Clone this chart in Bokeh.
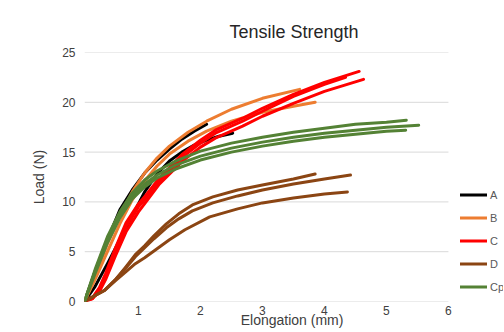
from bokeh.plotting import figure
from bokeh.models import Range1d, Legend, LegendItem, FixedTicker, Title
from bokeh.embed import file_html
from bokeh.resources import INLINE

# ---------------- data ----------------
x_ticks = [1, 2, 3, 4, 5, 6]
y_ticks = [0, 5, 10, 15, 20, 25]

A1_x = [0.13, 0.3, 0.5, 0.7, 0.9, 1.1, 1.3, 1.5, 1.7, 1.9, 2.1]
A1_y = [0, 3.0, 6.2, 9.2, 11.2, 12.9, 14.2, 15.3, 16.3, 17.1, 17.8]
A2_x = [0.13, 0.3, 0.5, 0.7, 0.9, 1.1, 1.3, 1.5, 1.7, 1.9, 2.1, 2.3, 2.52]
A2_y = [0, 1.5, 3.8, 6.2, 8.6, 11.0, 12.8, 14.1, 15.0, 15.7, 16.2, 16.6, 16.9]

B1_x = [0.13, 0.3, 0.5, 0.7, 0.9, 1.1, 1.3, 1.5, 1.8, 2.1, 2.5, 3.0, 3.5, 3.85]
B1_y = [0, 2.2, 5.0, 7.8, 10.2, 12.1, 13.6, 14.8, 16.1, 17.1, 18.1, 19.0, 19.6, 20.0]
B2_x = [0.13, 0.3, 0.5, 0.7, 0.9, 1.1, 1.3, 1.5, 1.8, 2.1, 2.5, 3.0, 3.6]
B2_y = [0, 2.6, 5.8, 8.6, 11.0, 12.9, 14.4, 15.6, 17.0, 18.1, 19.3, 20.4, 21.3]

C1_x = [0.13, 0.26, 0.37, 0.47, 0.63, 0.8, 1.0, 1.11, 1.34, 1.71, 2.0, 2.24, 2.68, 3.0, 3.5, 4.0, 4.56]
C1_y = [0, 0.4, 1.4, 2.8, 5.4, 7.9, 9.8, 10.6, 12.4, 14.8, 16.2, 17.2, 18.4, 19.4, 20.8, 22.0, 23.1]
C2_x = [0.13, 0.26, 0.37, 0.47, 0.63, 0.8, 1.0, 1.11, 1.34, 1.71, 2.0, 2.24, 2.68, 3.0, 3.5, 4.0, 4.34]
C2_y = [0, 0.3, 1.2, 2.5, 5.0, 7.5, 9.5, 10.3, 12.1, 14.5, 15.9, 16.9, 18.1, 19.1, 20.6, 21.8, 22.5]
C3_x = [0.13, 0.26, 0.37, 0.47, 0.63, 0.8, 1.0, 1.11, 1.34, 1.71, 2.0, 2.24, 2.68, 3.0, 3.5, 4.0, 4.63]
C3_y = [0, 0.3, 1.0, 2.2, 4.6, 7.0, 9.0, 9.9, 11.8, 14.1, 15.5, 16.4, 17.6, 18.6, 19.9, 21.1, 22.3]

D1_x = [0.13, 0.3, 0.45, 0.63, 0.8, 0.95, 1.1, 1.25, 1.45, 1.65, 1.87, 2.2, 2.6, 3.0, 3.5, 3.85]
D1_y = [0, 0.6, 1.1, 2.2, 3.5, 4.7, 5.6, 6.6, 7.8, 8.8, 9.7, 10.5, 11.2, 11.7, 12.3, 12.8]
D2_x = [0.13, 0.3, 0.45, 0.63, 0.8, 0.95, 1.1, 1.25, 1.45, 1.65, 1.87, 2.2, 2.6, 3.0, 3.5, 4.0, 4.42]
D2_y = [0, 0.6, 1.1, 2.2, 3.4, 4.5, 5.4, 6.3, 7.4, 8.3, 9.1, 9.9, 10.6, 11.2, 11.8, 12.3, 12.7]
D3_x = [0.13, 0.3, 0.45, 0.63, 0.8, 0.95, 1.1, 1.3, 1.5, 1.75, 2.15, 2.6, 3.0, 3.5, 4.0, 4.37]
D3_y = [0, 0.6, 1.1, 2.1, 3.0, 3.8, 4.4, 5.3, 6.2, 7.2, 8.5, 9.3, 9.9, 10.4, 10.8, 11.0]

Cp1_x = [0.13, 0.3, 0.5, 0.7, 0.9, 1.1, 1.3, 1.6, 2.0, 2.5, 3.0, 3.5, 4.0, 4.5, 5.0, 5.32]
Cp1_y = [0, 3.2, 6.5, 9.0, 10.9, 12.2, 13.1, 14.1, 15.1, 15.9, 16.5, 17.0, 17.4, 17.8, 18.0, 18.2]
Cp2_x = [0.13, 0.3, 0.5, 0.7, 0.9, 1.1, 1.3, 1.6, 2.0, 2.5, 3.0, 3.5, 4.0, 4.5, 5.0, 5.52]
Cp2_y = [0, 3.0, 6.2, 8.7, 10.6, 11.8, 12.7, 13.7, 14.6, 15.4, 16.0, 16.5, 16.9, 17.2, 17.5, 17.7]
Cp3_x = [0.13, 0.3, 0.5, 0.7, 0.9, 1.1, 1.3, 1.6, 2.0, 2.5, 3.0, 3.5, 4.0, 4.5, 5.0, 5.31]
Cp3_y = [0, 2.8, 5.9, 8.4, 10.3, 11.5, 12.4, 13.3, 14.2, 15.0, 15.6, 16.1, 16.5, 16.8, 17.1, 17.2]

series_names = ["A", "B", "C", "D", "Cp"]
series_colors = ["#000000", "#ED7D31", "#FF0000", "#8B4513", "#548235"]
series_curves = [
    [(A1_x, A1_y), (A2_x, A2_y)],
    [(B1_x, B1_y), (B2_x, B2_y)],
    [(C1_x, C1_y), (C2_x, C2_y), (C3_x, C3_y)],
    [(D1_x, D1_y), (D2_x, D2_y), (D3_x, D3_y)],
    [(Cp1_x, Cp1_y), (Cp2_x, Cp2_y), (Cp3_x, Cp3_y)],
]

FONT = "Liberation Sans"
X_START, X_END = 0.13, 6.888   # frame extends to the right edge so the legend fits inside it

p = figure(width=503, height=330, output_backend="svg", toolbar_location=None,
           x_range=Range1d(X_START, X_END), y_range=Range1d(0, 25),
           min_border_left=84, min_border_right=0, min_border_top=52, min_border_bottom=28,
           title=None)
p.outline_line_color = None
p.background_fill_color = "white"

p.xgrid.grid_line_color = None
p.ygrid.grid_line_color = None
# horizontal gridlines that stop at the last x tick, as in the reference
p.segment(x0=[X_START] * len(y_ticks), y0=y_ticks, x1=[x_ticks[-1]] * len(y_ticks), y1=y_ticks,
          line_color="#d9d9d9", line_width=1)

for ax in (p.xaxis[0], p.yaxis[0]):
    ax.axis_line_color = None
    ax.major_tick_line_color = None
    ax.minor_tick_line_color = None
    ax.major_tick_out = 0
    ax.major_tick_in = 0
    ax.minor_tick_out = 0
    ax.minor_tick_in = 0
    ax.major_label_text_font = FONT
    ax.major_label_text_font_size = "12px"
    ax.major_label_text_color = "#404040"
    ax.axis_label_text_font = FONT
    ax.axis_label_text_font_size = "14px"
    ax.axis_label_text_font_style = "normal"
    ax.axis_label_text_color = "#404040"

p.xaxis.ticker = FixedTicker(ticks=x_ticks)
p.yaxis.ticker = FixedTicker(ticks=y_ticks)
p.xaxis.major_label_standoff = 4
p.yaxis.major_label_standoff = 9
p.yaxis.axis_label = "Load (N)"
p.yaxis.axis_label_standoff = 12
p.xaxis.axis_label = "Elongation  (mm)"
p.xaxis.axis_label_standoff = -6

title = Title(text="Tensile Strength", align="center", offset=-8, standoff=22,
              text_font=FONT, text_font_size="18px", text_font_style="normal",
              text_color="#262626")
p.add_layout(title, "above")

items = []
for name, color, curves in zip(series_names, series_colors, series_curves):
    first = None
    for xs, ys in curves:
        r = p.line(xs, ys, line_color=color, line_width=3, line_join="round", line_cap="round")
        if first is None:
            first = r
    items.append(LegendItem(label=name, renderers=[first]))

legend = Legend(items=items, location=(376, 3), orientation="vertical",
                glyph_width=27, glyph_height=23, label_height=23, label_width=14, spacing=0,
                padding=0, margin=0, border_line_color=None, background_fill_alpha=0,
                label_text_font=FONT, label_text_font_size="11px",
                label_text_color="#595959", label_standoff=3)
p.add_layout(legend)

open("out.html", "w").write(file_html(p, INLINE))
